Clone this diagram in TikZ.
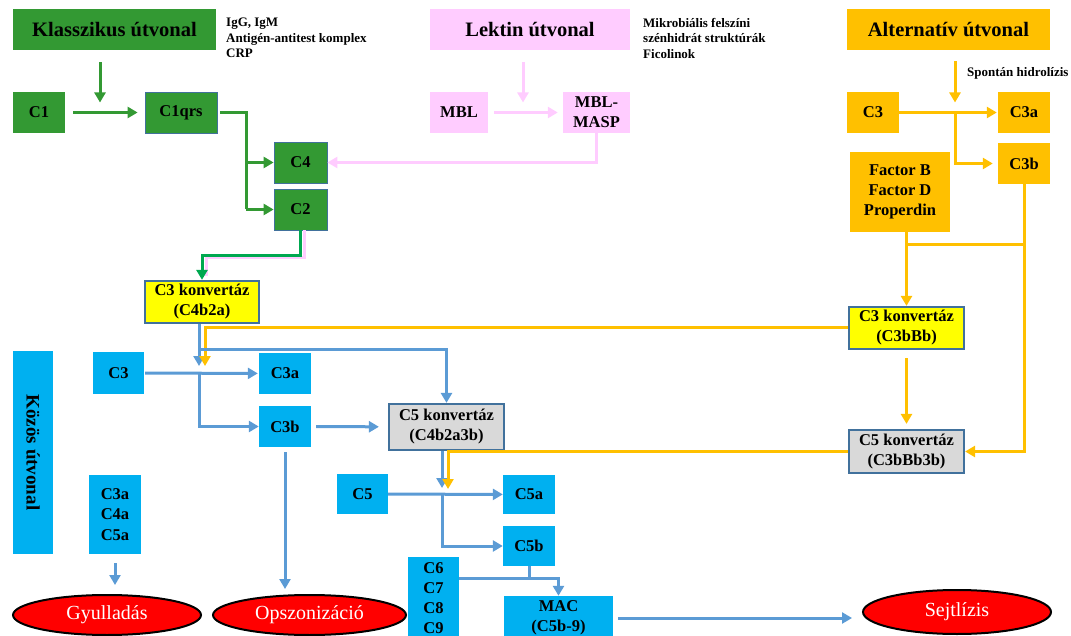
\documentclass[tikz,border=0pt]{standalone}
\usepackage{fontspec}
\setmainfont{Liberation Serif}
\usetikzlibrary{arrows.meta,shapes.geometric,calc}
\definecolor{KlassGreen}{RGB}{51,153,51}
\definecolor{BrightGreen}{RGB}{0,168,80}
\definecolor{LektinPink}{RGB}{255,204,255}
\definecolor{AltOrange}{RGB}{255,192,0}
\definecolor{KozosCyan}{RGB}{0,176,240}
\definecolor{LineBlue}{RGB}{91,155,213}
\definecolor{ConvYellow}{RGB}{255,255,0}
\definecolor{ConvGrey}{RGB}{217,217,217}
\definecolor{EdgeBlue}{RGB}{65,113,156}
\definecolor{LysRed}{RGB}{255,0,0}

\begin{document}
\begin{tikzpicture}[x=1pt,y=-1pt,>={Triangle[length=10pt,width=11pt]},
    box/.style={inner sep=0pt,align=center,text=black,
      font=\bfseries\fontsize{16.5}{20}\selectfont},
    sz/.style 2 args={minimum width=#1pt,minimum height=#2pt},
    titletext/.style={font=\bfseries\fontsize{20.5}{24}\selectfont},
    notetext/.style={inner sep=0pt,align=left,anchor=west,
      font=\bfseries\fontsize{13}{15.5}\selectfont},
    klassbox/.style={box,fill=KlassGreen},
    lektbox/.style={box,fill=LektinPink},
    altbox/.style={box,fill=AltOrange},
    kozbox/.style={box,fill=KozosCyan},
    thinedge/.style={draw=EdgeBlue,line width=0.8pt},
    convbox/.style={box,draw=EdgeBlue,line width=2.2pt},
    effect/.style={ellipse,draw=black,line width=2pt,fill=LysRed,
      text=white,inner sep=0pt,font=\fontsize{20}{24}\selectfont},
    link/.style={line width=3pt},
    gline/.style={link,KlassGreen},
    garrow/.style={gline,->},
    pline/.style={link,LektinPink},
    parrow/.style={pline,->},
    oline/.style={link,AltOrange},
    oarrow/.style={oline,->},
    bline/.style={link,LineBlue},
    barrow/.style={bline,->}]
  \useasboundingbox (0,0) rectangle (1071,636);

  % klasszikus ut
  \node[klassbox,titletext,sz={203}{41}] (klass) at (114.5,29.5) {Klasszikus útvonal};
  \node[notetext] (klassnote) at (226,38) {IgG, IgM\\Antigén-antitest komplex\\CRP};
  \node[klassbox,sz={52}{41}] (c1) at (39,112.5) {C1};
  \node[klassbox,thinedge,sz={72}{41}] (c1qrs) at (181,112.5) {C1qrs};
  \node[klassbox,thinedge,sz={53}{41}] (c4) at (300.5,162.5) {C4};
  \node[klassbox,thinedge,sz={53}{41}] (c2) at (300.5,209.5) {C2};

  % lektin ut
  \node[lektbox,titletext,sz={200}{41}] (lekt) at (530,29.5) {Lektin útvonal};
  \node[notetext] (lektnote) at (643,38) {Mikrobiális felszíni\\szénhidrát struktúrák\\Ficolinok};
  \node[lektbox,sz={58}{41}] (mbl) at (459,112.5) {MBL};
  \node[lektbox,sz={67}{41}] (mblmasp) at (596.5,112.5) {MBL-\\MASP};

  % alternativ ut
  \node[altbox,titletext,sz={203}{41}] (alt) at (948.5,29.5) {Alternatív útvonal};
  \node[notetext] (spont) at (967,73) {Spontán hidrolízis};
  \node[altbox,sz={52}{41}] (ac3) at (873,112.5) {C3};
  \node[altbox,sz={52}{41}] (ac3a) at (1024,112.5) {C3a};
  \node[altbox,sz={52}{41}] (ac3b) at (1024,163.5) {C3b};
  \node[altbox,sz={100}{80}] (factors) at (900,192) {Factor B\\Factor D\\Properdin};

  % konvertazok
  \node[convbox,fill=ConvYellow,sz={114}{42}] (c3kcl) at (202,302) {C3 konvertáz\\(C4b2a)};
  \node[convbox,fill=ConvYellow,sz={115}{42}] (c3kalt) at (906.5,328) {C3 konvertáz\\(C3bBb)};
  \node[convbox,fill=ConvGrey,sz={115}{46}] (c5kcl) at (446.5,427) {C5 konvertáz\\(C4b2a3b)};
  \node[convbox,fill=ConvGrey,sz={115}{43}] (c5kalt) at (906.5,451.5) {C5 konvertáz\\(C3bBb3b)};

  % kozos ut
  \node[kozbox,rotate=-90,sz={203}{40},font=\bfseries\fontsize{19}{23}\selectfont] (kozos) at (33,452.5) {Közös útvonal};
  \node[kozbox,sz={51}{42}] (kc3) at (118.5,373) {C3};
  \node[kozbox,sz={52}{41}] (kc3a) at (285,373.5) {C3a};
  \node[kozbox,sz={52}{41}] (kc3b) at (285,426.5) {C3b};
  \node[kozbox,sz={51}{40}] (kc5) at (362.5,494) {C5};
  \node[kozbox,sz={52}{39}] (kc5a) at (529,494.5) {C5a};
  \node[kozbox,sz={52}{40}] (kc5b) at (529,546) {C5b};
  \node[kozbox,sz={51}{82}] (c69) at (433.5,598) {C6\\C7\\C8\\C9};
  \node[kozbox,sz={109}{44}] (mac) at (558.5,618) {MAC\\(C5b-9)};
  \node[kozbox,sz={52}{79},font=\bfseries\fontsize{16.5}{20.5}\selectfont] (c345a) at (115,514.5) {C3a\\C4a\\C5a};

  % hatasok
  \node[effect,minimum width=188pt,minimum height=40pt] (gyull) at (107,615) {Gyulladás};
  \node[effect,minimum width=193pt,minimum height=40pt] (opsz) at (309.5,615) {Opszonizáció};
  \node[effect,minimum width=188pt,minimum height=44pt] (sejt) at (957,612) {Sejtlízis};

  % klasszikus nyilak
  \coordinate (c1j) at (100,112.5);
  \coordinate (c1v) at (246,112.5);
  \draw[garrow,shorten <=12pt,shorten >=10pt] (klass.south -| c1j) -- (c1j);
  \draw[garrow,shorten <=8pt,shorten >=7pt] (c1) -- (c1qrs);
  \draw[gline,shorten <=3pt] (c1qrs.east) -| (c1v |- c2);
  \draw[garrow] (c1v |- c4) -- (c4);
  \draw[garrow] (c1v |- c2) -- (c2);

  % lektin nyilak
  \coordinate (mblj) at (523,112.5);
  \draw[parrow,shorten <=12pt,shorten >=10pt] (lekt.south -| mblj) -- (mblj);
  \draw[parrow,shorten <=6pt,shorten >=5pt] (mbl) -- (mblmasp);
  \draw[parrow] (mblmasp.south) |- (c4);
  \draw[pline] ([xshift=4pt]c2.south) -- ++(0,27) -| ([xshift=4pt,yshift=4pt]c3kcl.north);
  \draw[link,BrightGreen,->] (c2.south) -- ++(0,25) -| (c3kcl.north);

  % alternativ nyilak
  \coordinate (ac3j) at (955,112.5);
  \coordinate (altj) at (0,245);
  \draw[oarrow,shorten <=11pt,shorten >=10pt] (alt.south -| ac3j) -- (ac3j);
  \draw[oarrow,shorten >=1pt] (ac3) -- (ac3a);
  \draw[oarrow,shorten >=5pt] (ac3j) |- (ac3b);
  \draw[oarrow] (factors.south -| c3kalt) -- (c3kalt);
  \draw[oline] (c3kalt |- altj) -- (ac3b |- altj);
  \draw[oarrow] (ac3b.south) |- (c5kalt);
  \draw[oarrow,shorten <=8pt,shorten >=5pt] (c3kalt) -- (c5kalt);

  % kozos nyilak
  \coordinate (bj1) at (199,373);
  \coordinate (bj2) at (199,349);
  \coordinate (bj3) at (442,494);
  \coordinate (bj4) at (557,578);
  \coordinate (oj1) at (205,366);
  \coordinate (oj2) at (448,489);
  \draw[barrow,shorten >=7pt] (c3kcl.south -| bj1) -- (bj1);
  \draw[oarrow] (c3kalt.west) -| (oj1);
  \draw[barrow,shorten <=1pt,shorten >=1pt] (kc3) -- (kc3a);
  \draw[barrow] (bj1) |- (kc3b);
  \draw[barrow] (bj2) -| (c5kcl);
  \draw[barrow,shorten <=5pt,shorten >=9pt] (kc3b) -- (c5kcl);
  \draw[barrow,shorten <=5pt,shorten >=5pt] (kc3b.south) -- (kc3b.south |- opsz.north);
  \draw[barrow,shorten >=6pt] (c5kcl.south -| bj3) -- (bj3);
  \draw[oarrow] (c5kalt.west) -| (oj2);
  \draw[barrow] (kc5) -- (kc5a);
  \draw[barrow] (bj3) |- (kc5b);
  \draw[bline] (kc5b.south) -- (kc5b.south |- bj4);
  \draw[barrow] (c69.east |- bj4) -| (mac);
  \draw[barrow,shorten <=5pt,shorten >=10pt] (mac.east) -- (sejt.west |- mac.east);
  \draw[barrow,shorten <=9pt,shorten >=9pt] (c345a.south) -- (c345a.south |- gyull.north);
\end{tikzpicture}
\end{document}
